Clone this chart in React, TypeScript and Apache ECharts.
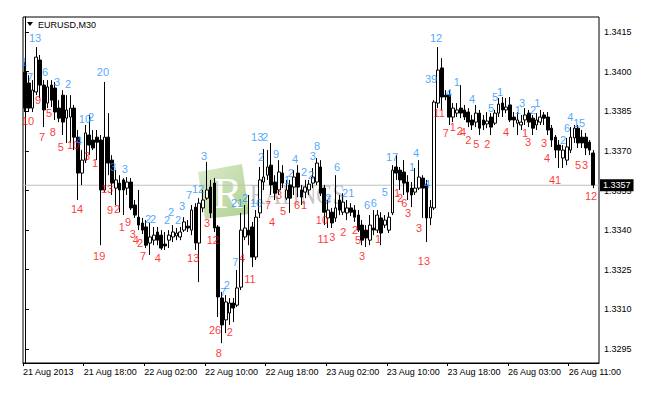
import React, { useEffect, useRef } from 'react';
import * as echarts from 'echarts';

const BAR_COUNT = 152;
const TICK_EVERY = 16;
const tickLabels = ['21 Aug 2013', '21 Aug 18:00', '22 Aug 02:00', '22 Aug 10:00', '22 Aug 18:00', '23 Aug 02:00', '23 Aug 10:00', '23 Aug 18:00', '26 Aug 03:00', '26 Aug 11:00'];
const priceTicks = [1.3295, 1.331, 1.3325, 1.334, 1.3355, 1.337, 1.3385, 1.34, 1.3415];
const currentPrice = 1.3357;
const yMin = 1.328969;
const yMax = 1.342069;

const opens = [1.33998, 1.33957, 1.33862, 1.33923, 1.34044, 1.33949, 1.33881, 1.33949, 1.33938, 1.33862,
  1.33911, 1.33824, 1.33828, 1.33862, 1.33752, 1.33616, 1.33665, 1.3376, 1.33741, 1.33752,
  1.33741, 1.33552, 1.33752, 1.33665, 1.33559, 1.33578, 1.3359, 1.33559, 1.33582, 1.33495,
  1.33449, 1.33427, 1.33412, 1.33351, 1.33362, 1.33393, 1.33381, 1.33347, 1.33362, 1.33374,
  1.33378, 1.33374, 1.334, 1.33415, 1.334, 1.33487, 1.33351, 1.33484, 1.33521, 1.33563,
  1.33578, 1.33412, 1.33143, 1.3306, 1.33086, 1.33124, 1.33116, 1.33184, 1.33374, 1.334,
  1.33412, 1.33298, 1.33465, 1.33582, 1.33608, 1.33646, 1.33582, 1.33552, 1.33616, 1.33521,
  1.33571, 1.33563, 1.33616, 1.33552, 1.33544, 1.33552, 1.33578, 1.33582, 1.33639, 1.33559,
  1.33446, 1.33468, 1.33446, 1.33514, 1.33468, 1.33465, 1.33484, 1.33476, 1.33457, 1.33419,
  1.334, 1.33362, 1.33408, 1.334, 1.33446, 1.33419, 1.334, 1.33465, 1.33639, 1.33627,
  1.3362, 1.33582, 1.33559, 1.33544, 1.33559, 1.33597, 1.33571, 1.33446, 1.33484, 1.33881,
  1.34014, 1.33911, 1.33911, 1.33828, 1.33843, 1.33862, 1.33855, 1.33847, 1.33817, 1.33809,
  1.33843, 1.33817, 1.33802, 1.33828, 1.33805, 1.33843, 1.33881, 1.33855, 1.33874, 1.33828,
  1.33805, 1.33798, 1.33817, 1.33843, 1.33824, 1.33798, 1.33809, 1.33836, 1.33828, 1.33786,
  1.33752, 1.33722, 1.33673, 1.33665, 1.33703, 1.33749, 1.33786, 1.33752, 1.33752, 1.33733,
  1.33692];
const closes = [1.33862, 1.33862, 1.3393, 1.34055, 1.33949, 1.33855, 1.33942, 1.33892, 1.33847, 1.33824,
  1.33809, 1.33855, 1.33862, 1.33752, 1.33616, 1.33665, 1.33768, 1.33722, 1.33711, 1.33733,
  1.33552, 1.33752, 1.33654, 1.33578, 1.3359, 1.33552, 1.33552, 1.33582, 1.33484, 1.33457,
  1.33419, 1.334, 1.33343, 1.33374, 1.33381, 1.33362, 1.33332, 1.3334, 1.33381, 1.33393,
  1.33389, 1.33393, 1.33431, 1.33408, 1.33476, 1.33351, 1.33502, 1.33514, 1.33552, 1.33465,
  1.33408, 1.33147, 1.33041, 1.33128, 1.33124, 1.33105, 1.33181, 1.334, 1.33408, 1.33381,
  1.33298, 1.33449, 1.3359, 1.33601, 1.33639, 1.33571, 1.3354, 1.3362, 1.33578, 1.33552,
  1.33521, 1.33601, 1.33563, 1.33525, 1.33563, 1.33574, 1.33601, 1.33654, 1.3354, 1.33468,
  1.33476, 1.33427, 1.33484, 1.33476, 1.33506, 1.33484, 1.33468, 1.33449, 1.334, 1.33362,
  1.3337, 1.33419, 1.334, 1.33457, 1.33389, 1.33438, 1.33449, 1.33627, 1.33616, 1.3359,
  1.33578, 1.33544, 1.33533, 1.33559, 1.33601, 1.33559, 1.33446, 1.33487, 1.33885, 1.34006,
  1.33904, 1.33904, 1.33828, 1.33862, 1.33855, 1.33843, 1.33828, 1.33809, 1.33798, 1.33843,
  1.33786, 1.33798, 1.33813, 1.3379, 1.33843, 1.33877, 1.33855, 1.33866, 1.33817, 1.33817,
  1.33817, 1.33809, 1.33836, 1.33809, 1.33786, 1.33817, 1.33828, 1.33824, 1.33779, 1.33741,
  1.33703, 1.33703, 1.33703, 1.33715, 1.33752, 1.33786, 1.3373, 1.3373, 1.33711, 1.33703,
  1.33571];
const lows = [1.33847, 1.33847, 1.33847, 1.33911, 1.339, 1.3379, 1.33862, 1.33866, 1.33817, 1.33809,
  1.3376, 1.3373, 1.3373, 1.33703, 1.33514, 1.33571, 1.33654, 1.33684, 1.33703, 1.33665,
  1.33343, 1.33544, 1.33608, 1.33533, 1.33495, 1.33468, 1.33457, 1.33533, 1.33476, 1.33446,
  1.334, 1.33385, 1.33332, 1.33306, 1.33343, 1.33343, 1.33325, 1.33325, 1.33332, 1.33355,
  1.33362, 1.33362, 1.33393, 1.33393, 1.33381, 1.33325, 1.33203, 1.33468, 1.33514, 1.33446,
  1.33393, 1.33071, 1.32972, 1.3301, 1.33041, 1.33052, 1.33109, 1.33173, 1.33362, 1.33343,
  1.3326, 1.33287, 1.33446, 1.33552, 1.3359, 1.33533, 1.33514, 1.33533, 1.33559, 1.33514,
  1.33465, 1.33533, 1.33525, 1.33495, 1.33521, 1.33533, 1.33559, 1.33571, 1.33529, 1.33419,
  1.33408, 1.33408, 1.33431, 1.33457, 1.33457, 1.33438, 1.33453, 1.33431, 1.33393, 1.33343,
  1.33336, 1.33343, 1.33381, 1.33389, 1.33343, 1.33408, 1.33389, 1.33457, 1.3359, 1.33552,
  1.33533, 1.33514, 1.33487, 1.33533, 1.33552, 1.33446, 1.33355, 1.33419, 1.33476, 1.33862,
  1.33855, 1.33892, 1.33798, 1.33809, 1.33828, 1.33824, 1.33817, 1.3379, 1.33779, 1.3379,
  1.3376, 1.33779, 1.33786, 1.3376, 1.33798, 1.33828, 1.33828, 1.33843, 1.33809, 1.3379,
  1.3376, 1.33779, 1.33798, 1.3379, 1.3376, 1.33779, 1.33798, 1.33798, 1.3376, 1.33715,
  1.33673, 1.33635, 1.33635, 1.33646, 1.33692, 1.3373, 1.33711, 1.33711, 1.33684, 1.33684,
  1.33559];
const highs = [1.34036, 1.33987, 1.33968, 1.34093, 1.34063, 1.33968, 1.33968, 1.33968, 1.33961, 1.33892,
  1.3393, 1.33911, 1.33911, 1.33874, 1.33779, 1.33703, 1.33798, 1.33836, 1.33779, 1.33779,
  1.3376, 1.33961, 1.33843, 1.33684, 1.33627, 1.33608, 1.33597, 1.33601, 1.33597, 1.33514,
  1.33552, 1.33446, 1.33438, 1.33427, 1.33412, 1.33412, 1.334, 1.33393, 1.334, 1.33419,
  1.33408, 1.33412, 1.33449, 1.33438, 1.33495, 1.33502, 1.33521, 1.33552, 1.33658, 1.3359,
  1.33597, 1.33419, 1.33166, 1.33154, 1.33143, 1.33143, 1.33249, 1.33465, 1.33495, 1.33533,
  1.33431, 1.33476, 1.33639, 1.33707, 1.33703, 1.3373, 1.33608, 1.33665, 1.33646, 1.3359,
  1.3359, 1.33627, 1.33646, 1.33571, 1.3359, 1.3359, 1.33635, 1.33673, 1.33665, 1.33571,
  1.33514, 1.33484, 1.33608, 1.33533, 1.3354, 1.33514, 1.33502, 1.33495, 1.33476, 1.33438,
  1.33419, 1.33457, 1.33476, 1.33476, 1.33468, 1.33457, 1.33468, 1.33646, 1.33684, 1.33639,
  1.33665, 1.33608, 1.33582, 1.33635, 1.33665, 1.33608, 1.3359, 1.33514, 1.33892, 1.34093,
  1.34051, 1.3393, 1.3393, 1.33881, 1.33881, 1.33949, 1.33874, 1.33862, 1.33836, 1.33874,
  1.33855, 1.33836, 1.33847, 1.33843, 1.33855, 1.339, 1.33904, 1.339, 1.33904, 1.33847,
  1.33847, 1.33836, 1.33862, 1.33855, 1.33836, 1.33843, 1.33855, 1.33847, 1.33847, 1.33798,
  1.3376, 1.33741, 1.33722, 1.33749, 1.3379, 1.33798, 1.33798, 1.33779, 1.33768, 1.33741,
  1.33703];

// [bar position, price, count]
const upCounts: [number, number, string][] = [
  [-0.2, 1.34036, '1'], [1.35, 1.3398, '7'], [2.67, 1.34127, '13'], [5.31, 1.33998, '6'], [8.47, 1.33961, '3'],
  [11.38, 1.33953, '2'], [14.28, 1.33737, '4'], [15.86, 1.3382, '10'], [17.45, 1.33828, '2'], [20.6, 1.33998, '20'],
  [23.25, 1.33639, '3'], [26.4, 1.33631, '3'], [32.5, 1.33442, '2'], [33.8, 1.33442, '2'], [37.5, 1.33438, '2'],
  [38.56, 1.33468, '2'], [40.4, 1.33438, '2'], [41.5, 1.33491, '3'], [43.3, 1.33533, '7'], [45.7, 1.33555, '12'],
  [47.3, 1.3368, '3'], [52.3, 1.33166, '7'], [53.3, 1.33192, '2'], [55.5, 1.33279, '7'], [56.0, 1.33502, '21'],
  [58.1, 1.33521, '2'], [61.0, 1.33502, '16'], [62.3, 1.33677, '2'], [61.3, 1.33752, '13'], [63.4, 1.33752, '2'],
  [66.3, 1.33688, '9'], [69.2, 1.3359, '1'], [70.2, 1.33616, '2'], [71.3, 1.33669, '4'], [73.7, 1.3362, '2'],
  [75.5, 1.33608, '2'], [76.0, 1.3368, '3'], [77.1, 1.33718, '8'], [80.0, 1.33521, '2'], [82.4, 1.33639, '6'],
  [85.3, 1.3354, '21'], [90.3, 1.33495, '6'], [92.1, 1.33502, '6'], [95.0, 1.33544, '5'], [96.9, 1.33677, '17'],
  [102.2, 1.33639, '1'], [103.2, 1.33692, '4'], [106.1, 1.33574, '4'], [107.2, 1.33972, '39'], [108.5, 1.34127, '12'],
  [111.9, 1.33919, '4'], [114.0, 1.33961, '1'], [118.0, 1.33896, '4'], [123.0, 1.33862, '5'], [124.1, 1.33904, '5'],
  [125.4, 1.33923, '1'], [130.1, 1.33855, '1'], [131.2, 1.33881, '3'], [134.1, 1.33855, '2'], [135.2, 1.33881, '1'],
  [142.0, 1.33741, '2'], [143.1, 1.33786, '6'], [143.9, 1.33828, '4'], [145.5, 1.33805, '1'], [147.0, 1.33805, '5'],
];
const downCounts: [number, number, string][] = [
  [0.82, 1.33813, '10'], [3.46, 1.33892, '9'], [4.5, 1.33752, '7'], [6.36, 1.33843, '5'], [7.4, 1.33771, '8'],
  [9.5, 1.33715, '5'], [12.7, 1.33722, '10'], [16.4, 1.3368, '3'], [18.5, 1.33654, '1'], [13.75, 1.3348, '14'],
  [19.6, 1.33302, '19'], [21.67, 1.33555, '13'], [22.46, 1.33476, '9'], [24.3, 1.3348, '2'], [25.6, 1.33412, '1'],
  [27.2, 1.33431, '9'], [28.5, 1.33385, '3'], [29.3, 1.33362, '4'], [30.4, 1.33351, '2'], [31.2, 1.33302, '7'],
  [35.1, 1.33294, '4'], [44.4, 1.33294, '13'], [48.1, 1.33427, '3'], [49.6, 1.33362, '12'], [50.2, 1.33022, '26'],
  [51.2, 1.32935, '8'], [54.1, 1.33014, '2'], [57.3, 1.33294, '4'], [59.4, 1.33215, '11'], [64.2, 1.33495, '7'],
  [65.2, 1.33431, '4'], [67.1, 1.33533, '3'], [68.1, 1.33472, '5'], [71.8, 1.33495, '6'], [73.7, 1.33495, '1'],
  [78.4, 1.33438, '10'], [78.7, 1.33366, '11'], [81.1, 1.33374, '3'], [84.0, 1.33393, '2'], [87.1, 1.334, '2'],
  [87.9, 1.33363, '5'], [89.0, 1.33302, '3'], [93.2, 1.33366, '1'], [98.2, 1.3354, '1'], [99.0, 1.33521, '2'],
  [100.1, 1.33502, '6'], [101.1, 1.33465, '3'], [104.0, 1.33408, '3'], [105.3, 1.33283, '13'], [109.3, 1.33843, '11'],
  [111.1, 1.33768, '7'], [112.9, 1.3379, '1'], [114.8, 1.33775, '2'], [115.6, 1.33771, '4'], [117.0, 1.33741, '2'],
  [119.1, 1.33726, '5'], [122.0, 1.33726, '2'], [127.0, 1.33771, '4'], [132.0, 1.33768, '1'], [132.8, 1.33733, '3'],
  [137.0, 1.3373, '3'], [137.8, 1.33673, '4'], [139.1, 1.3359, '4'], [140.7, 1.3359, '1'], [146.0, 1.33646, '5'],
  [147.8, 1.33646, '3'], [149.4, 1.33529, '12'],
];

const FONT = '"Liberation Sans", Arial, sans-serif';

export default function App() {
  const ref = useRef<HTMLDivElement>(null);
  useEffect(() => {
    if (!ref.current) return;
    const chart = echarts.init(ref.current, null, { renderer: 'svg' });
    const categories = Array.from({ length: BAR_COUNT }, (_, i) => String(i));
    const candleData = opens.map((o, i) => [o, closes[i], lows[i], highs[i]]);
    const tickPositions = tickLabels.map((_, k) => k * TICK_EVERY - 0.5);
    const countSeries = (data: [number, number, string][], color: string) => ({
      type: 'scatter',
      xAxisIndex: 1,
      yAxisIndex: 0,
      symbol: 'circle',
      symbolSize: 1,
      silent: true,
      z: 5,
      itemStyle: { color: 'rgba(0,0,0,0)' },
      data: data.map(([x, y, t]) => ({ value: [x, y], name: t })),
      label: { show: true, position: 'inside', formatter: '{b}', color, fontSize: 11, fontFamily: FONT },
      emphasis: { disabled: true },
    });
    chart.setOption({
      animation: false,
      backgroundColor: '#ffffff',
      textStyle: { fontFamily: FONT },
      grid: { left: 23, right: 71, top: 17, bottom: 30, show: true, borderColor: '#000', borderWidth: 1, backgroundColor: 'transparent' },
      xAxis: [
        { type: 'category', data: categories, boundaryGap: true, show: false },
        {
          type: 'value', min: -0.5, max: BAR_COUNT - 0.5, position: 'bottom',
          axisLine: { show: true, lineStyle: { color: '#000', width: 1 } },
          axisTick: { show: true, customValues: tickPositions, length: 3, lineStyle: { color: '#000' } },
          axisLabel: {
            customValues: tickPositions, color: '#000', fontSize: 9, margin: 4, align: 'left',
            formatter: (v: number) => tickLabels[Math.round((v + 0.5) / TICK_EVERY)] ?? '',
          },
          splitLine: { show: false },
        },
      ],
      yAxis: {
        type: 'value', position: 'right', min: yMin, max: yMax,
        axisLine: { show: true, lineStyle: { color: '#000', width: 1 } },
        axisTick: { show: true, customValues: priceTicks, length: 4, lineStyle: { color: '#000' } },
        axisLabel: { customValues: priceTicks, color: '#000', fontSize: 9, margin: 5, formatter: (v: number) => v.toFixed(4) },
        splitLine: { show: false },
      },
      series: [
        {
          type: 'line',
          xAxisIndex: 1,
          yAxisIndex: 0,
          data: [[-0.5, currentPrice], [BAR_COUNT - 0.5, currentPrice]],
          symbol: 'none',
          silent: true,
          z: 1,
          lineStyle: { color: '#c0c0c0', width: 1 },
          endLabel: {
            show: true, formatter: currentPrice.toFixed(4), color: '#fff', backgroundColor: '#000',
            padding: [2, 3, 1, 3], fontSize: 9, distance: 1, fontFamily: FONT,
          },
          emphasis: { disabled: true },
        },
        {
          type: 'candlestick',
          xAxisIndex: 0,
          yAxisIndex: 0,
          data: candleData,
          barWidth: 3.2,
          z: 3,
          itemStyle: { color: '#ffffff', color0: '#000000', borderColor: '#000000', borderColor0: '#000000', borderWidth: 1 },
          emphasis: { disabled: true },
        },
        countSeries(upCounts, '#1E90FF'),
        countSeries(downCounts, '#FF0000'),
      ],
      graphic: [
        {
          type: 'group', silent: true, z: 0,
          children: [
            {
              type: 'polygon', shape: { points: [[198, 172], [242, 164], [249, 214], [205, 219]] },
              style: {
                fill: new echarts.graphic.LinearGradient(0, 0, 1, 1, [
                  { offset: 0, color: 'rgba(215,232,195,0.85)' },
                  { offset: 1, color: 'rgba(160,200,125,0.85)' },
                ]),
              },
            },
            { type: 'text', x: 228, y: 193, style: { text: 'R', font: '44px "Liberation Serif"', fill: '#ffffff', align: 'center', verticalAlign: 'middle' } },
            { type: 'text', x: 250, y: 194, scaleX: 0.75, style: { text: 'RATINGS', font: '30px "Liberation Serif"', fill: '#c4c4c4', verticalAlign: 'middle' } },
          ],
        },
        { type: 'polygon', shape: { points: [[27, 22], [33, 22], [30, 26]] }, style: { fill: '#000' }, z: 10 },
        { type: 'text', x: 38, y: 25, style: { text: 'EURUSD,M30', font: '9px "Liberation Sans"', fill: '#000', verticalAlign: 'middle' }, z: 10 },
      ],
    });
    return () => chart.dispose();
  }, []);
  return <div ref={ref} style={{ position: 'absolute', left: 0, top: 0, width: 670, height: 393 }} />;
}
